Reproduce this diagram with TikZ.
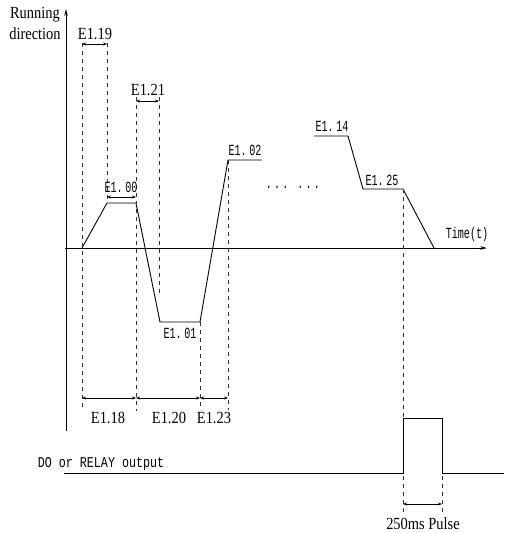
\documentclass[tikz,border=0pt]{standalone}
\usepackage{fontspec}
\setmainfont{Liberation Serif}
\newfontfamily\serifn[FakeStretch=0.85]{Liberation Serif}
\newfontfamily\monon[FakeStretch=0.65]{Liberation Mono}
\newfontfamily\monow[FakeStretch=0.78]{Liberation Mono}
\newcommand\threedots{.\kern2.2pt.\kern2.2pt.}
\usetikzlibrary{arrows.meta}
\begin{document}
\begin{tikzpicture}[x=1pt,y=-1pt,
  dimline/.style={draw, line width=0.8pt, {Stealth[length=4pt,width=3pt]}-{Stealth[length=4pt,width=3pt]}},
  guide/.style={draw, line width=0.8pt, dash pattern=on 4pt off 4pt, black!80},
  prof/.style={draw, line width=0.9pt},
  axisline/.style={draw, line width=0.9pt, -{Stealth[length=7pt,width=3.5pt]}},
  slab/.style={font=\serifn\fontsize{17}{19}\selectfont, inner sep=0pt, anchor=base},
  mlab/.style={font=\monon\fontsize{15.5}{17}\selectfont, inner sep=0pt, anchor=base},
]
\useasboundingbox (0,0) rectangle (504,533);
% axes
\coordinate (ybot) at (66,431);
\coordinate (ytop) at (66,9);
\coordinate (xst) at (65,248);
\coordinate (xend) at (487,248);
\draw[axisline] (ybot) -- (ytop);
\draw[axisline] (xst) -- (xend);
% profile points
\coordinate (p0) at (82,248);
\coordinate (p1) at (107,203);
\coordinate (p2) at (136,203);
\coordinate (p3) at (160,322);
\coordinate (p4) at (200,322);
\coordinate (p5) at (228,160);
\coordinate (p6) at (262,160);
\coordinate (q0) at (314,136);
\coordinate (q1) at (348,136);
\coordinate (q2) at (363,189);
\coordinate (q3) at (403,189);
\coordinate (q4) at (434,248);
\draw[prof] (p0) -- (p1) -- (p2) -- (p3) -- (p4) -- (p5) -- (p6);
\draw[prof] (q0) -- (q1) -- (q2) -- (q3) -- (q4);
% pulse
\coordinate (d0) at (64,473);
\coordinate (d1) at (403,473);
\coordinate (d2) at (403,418);
\coordinate (d3) at (442,418);
\coordinate (d4) at (442,473);
\coordinate (d5) at (504,473);
\draw[prof] (d0) -- (d1) -- (d2) -- (d3) -- (d4) -- (d5);
% guide coordinates
\coordinate (g1t) at (82,43);   \coordinate (g1b) at (82,411);
\coordinate (g2t) at (107,43);
\coordinate (g3t) at (136,97);  \coordinate (g3b) at (136,411);
\coordinate (g4t) at (159,97);  \coordinate (g4b) at (159,294);
\coordinate (g5b) at (200,410);
\coordinate (g6b) at (228,410);
\coordinate (g7a) at (403,476); \coordinate (g7b) at (403,512);
\coordinate (g8a) at (442,476); \coordinate (g8b) at (442,512);
\draw[guide] (g1t) -- (g1b);
\draw[guide] (g2t) -- (p1);
\draw[guide] (g3t) -- (g3b);
\draw[guide] (g4t) -- (g4b);
\draw[guide] (p4) -- (g5b);
\draw[guide] (p5) -- (g6b);
\draw[guide] (q3) -- (d2);
\draw[guide] (g7a) -- (g7b);
\draw[guide] (g8a) -- (g8b);
% dimension coordinates
\coordinate (a19l) at (82,44);   \coordinate (a19r) at (107,44);
\coordinate (a21l) at (136,101); \coordinate (a21r) at (159,101);
\coordinate (a00l) at (107,197); \coordinate (a00r) at (136,197);
\coordinate (b1) at (82,398); \coordinate (b2) at (136,398);
\coordinate (b3) at (200,398); \coordinate (b4) at (228,398);
\coordinate (pl) at (403,504); \coordinate (pr) at (442,504);
\draw[dimline] (a19l) -- (a19r);
\draw[dimline] (a21l) -- (a21r);
\draw[dimline] (a00l) -- (a00r);
\draw[dimline] (b1) -- (b2);
\draw[dimline] (b2) -- (b3);
\draw[dimline] (b3) -- (b4);
\draw[dimline] (pl) -- (pr);
% labels
\node[slab] (run) at (35,18) {Running};
\node[slab] (dir) at (35,39) {direction};
\node[slab] (l19) at (95,39) {E1.19};
\node[slab] (l21) at (148,95) {E1.21};
\node[mlab] (l00) at (121,192) {E1.\,00};
\node[mlab] (l02) at (245,155) {E1.\,02};
\node[mlab] (l01) at (180,338) {E1.\,01};
\node[mlab] (l14) at (332,131) {E1.\,14};
\node[mlab] (l25) at (382,185) {E1.\,25};
\node[mlab] (dots) at (293,188) {\threedots\kern9pt\threedots};
\node[mlab] (time) at (467,238) {Time(t)};
\node[slab] (l18) at (108,423) {E1.18};
\node[slab] (l20) at (169,423) {E1.20};
\node[slab] (l23) at (214,423) {E1.23};
\node[mlab, font=\monow\fontsize{15}{17}\selectfont] (dol) at (101,467) {DO or RELAY output};
\node[slab] (pul) at (423,529) {250ms Pulse};
\end{tikzpicture}
\end{document}
